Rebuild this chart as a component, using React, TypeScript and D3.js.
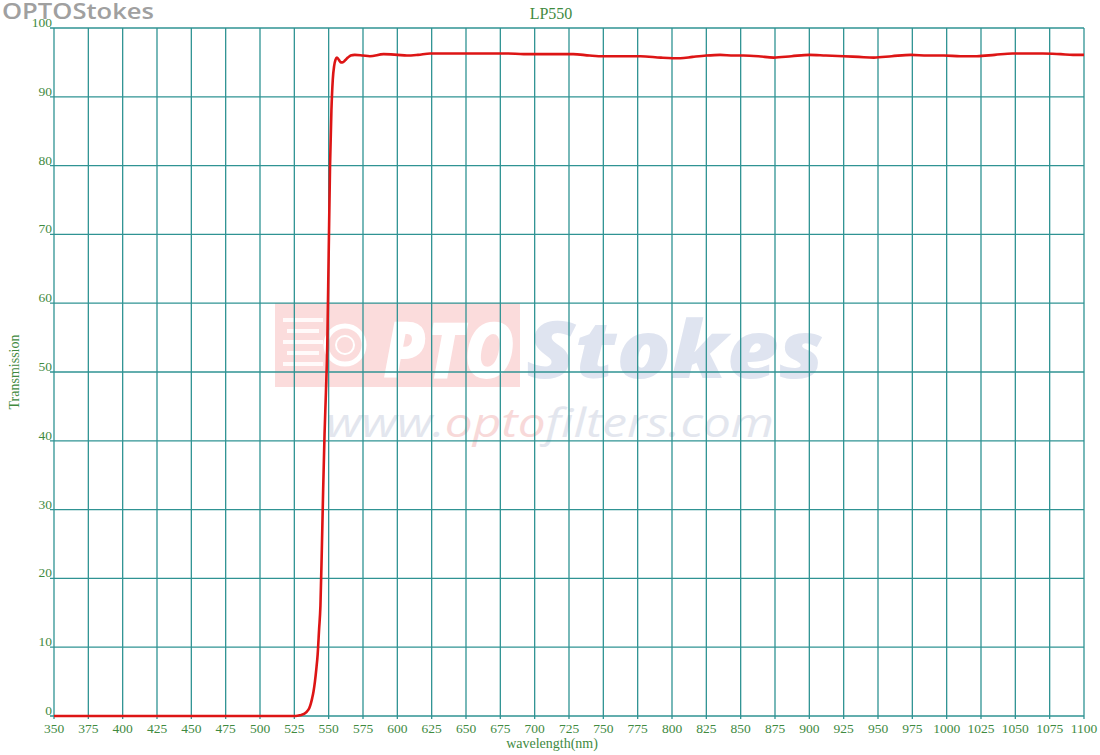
import React from "react";
import * as d3 from "d3";

// transmission curve (wavelength in nm, transmission in %)
const wavelengths = [
  350, 375, 400, 425, 450, 475, 500, 520, 526, 529, 532, 534, 536, 537, 538,
  539, 540, 541, 542, 543, 544, 545, 546, 547, 548, 549, 550, 551, 552, 553,
  554, 555, 556, 557, 558, 559, 560, 562, 564, 566, 569, 575, 580, 590, 600,
  607, 615, 624, 637, 650, 665, 680, 692, 704, 716, 728, 740, 750, 763, 777,
  792, 806, 815, 825, 835, 845, 852, 863, 874, 887, 900, 912, 925, 936, 947,
  960, 974, 986, 998, 1010, 1022, 1035, 1048, 1058, 1070, 1083, 1092, 1100,
];
const transmission = [
  0, 0, 0, 0, 0, 0, 0, 0, 0, 0.1, 0.3, 0.6, 1.2, 1.8, 2.6, 3.6, 5, 6.8, 9,
  12.5, 16, 24, 33, 41, 47, 54, 67, 80, 88, 92.5, 94.5, 95.4, 95.7, 95.5, 95.2,
  95.0, 95.0, 95.3, 95.7, 96.0, 96.1, 96.0, 95.9, 96.2, 96.1, 96.0, 96.1, 96.3,
  96.3, 96.3, 96.3, 96.3, 96.2, 96.2, 96.2, 96.2, 96.0, 95.9, 95.9, 95.9, 95.7,
  95.6, 95.8, 96.0, 96.1, 96.0, 96.0, 95.9, 95.7, 95.9, 96.1, 96.0, 95.9, 95.8,
  95.7, 95.9, 96.1, 96.0, 96.0, 95.9, 95.9, 96.1, 96.3, 96.3, 96.3, 96.2, 96.1,
  96.1,
];

const xTicks = d3.range(350, 1101, 25);
const yTicks = d3.range(0, 101, 10);

const title = "LP550";
const xTitle = "wavelength(nm)";
const yTitle = "Transmission";

const W = 1100;
const H = 755;
const margin = { top: 28, right: 16, bottom: 39, left: 54 };

const gridColor = "#2f9393";
const textColor = "#3f8a3f";
const lineColor = "#dd1515";
const serif = "'Liberation Serif', 'DejaVu Serif', serif";
const sans = "'Open Sans', 'DejaVu Sans', sans-serif";

export default function App() {
  const x = d3
    .scaleLinear()
    .domain([350, 1100])
    .range([margin.left, W - margin.right]);
  const y = d3
    .scaleLinear()
    .domain([0, 100])
    .range([H - margin.bottom, margin.top]);

  const points = wavelengths.map((w, i) => [w, transmission[i]] as [number, number]);
  const line = d3
    .line<[number, number]>()
    .x((d) => x(d[0]))
    .y((d) => y(d[1]))
    .curve(d3.curveMonotoneX);

  const x0 = x(350);
  const x1 = x(1100);
  const y0 = y(0);
  const y1 = y(100);

  return (
    <svg
      width={W}
      height={H}
      style={{ position: "absolute", left: 0, top: 0, background: "#fff" }}
    >
      {/* brand */}
      <text
        x={2}
        y={19}
        fontFamily={sans}
        fontWeight={600}
        fontSize={22}
        fill="#a0a0a0"
        textLength={152}
        lengthAdjust="spacingAndGlyphs"
      >
        OPTOStokes
      </text>

      {/* watermark */}
      <g>
        <rect x={275} y={303} width={245} height={84} fill="#fbdcdc" />
        {[0, 1, 2, 3, 4].map((i) => (
          <rect
            key={i}
            x={283 + (i % 2) * 4}
            y={318 + i * 11}
            width={40 - (i % 2) * 8}
            height={4}
            fill="#fff"
            opacity={0.85}
          />
        ))}
        <circle cx={345} cy={345} r={19} fill="none" stroke="#fff" strokeWidth={5} />
        <circle cx={345} cy={345} r={9} fill="none" stroke="#fff" strokeWidth={2} />
        <text
          x={383}
          y={378}
          fontFamily={sans}
          fontWeight={800}
          fontStyle="italic"
          fontSize={78}
          fill="#fff"
          textLength={132}
          lengthAdjust="spacingAndGlyphs"
        >
          PTO
        </text>
        <text
          x={526}
          y={378}
          fontFamily={sans}
          fontWeight={800}
          fontStyle="italic"
          fontSize={80}
          fill="#dfe4f0"
          textLength={298}
          lengthAdjust="spacingAndGlyphs"
        >
          Stokes
        </text>
        <text
          x={326}
          y={437}
          fontFamily={sans}
          fontStyle="italic"
          fontSize={40}
          fill="#e3e6ee"
          textLength={448}
          lengthAdjust="spacingAndGlyphs"
        >
          www.
          <tspan fill="#f8d9d9">opto</tspan>
          filters.com
        </text>
      </g>

      {/* grid */}
      <g stroke={gridColor} strokeWidth={1.3}>
        {xTicks.map((t) => (
          <line key={"gx" + t} x1={x(t)} x2={x(t)} y1={y1} y2={y0} />
        ))}
        {yTicks.map((t) => (
          <line key={"gy" + t} x1={x0 - 4} x2={x1} y1={y(t)} y2={y(t)} />
        ))}
        {xTicks.map((t) => (
          <line key={"tx" + t} x1={x(t)} x2={x(t)} y1={y0} y2={y0 + 3} />
        ))}
      </g>

      {/* curve */}
      <path
        d={line(points) ?? ""}
        fill="none"
        stroke={lineColor}
        strokeWidth={2.6}
        strokeLinejoin="round"
      />

      {/* tick labels */}
      <g fontFamily={serif} fontSize={13.5} fill={textColor}>
        {yTicks.map((t) => (
          <text key={"ly" + t} x={x0 - 2} y={y(t) - 1} textAnchor="end">
            {t}
          </text>
        ))}
        {xTicks.map((t) => (
          <text key={"lx" + t} x={x(t)} y={y0 + 17} textAnchor="middle">
            {t}
          </text>
        ))}
      </g>

      {/* titles */}
      <text
        x={551}
        y={19}
        textAnchor="middle"
        fontFamily={serif}
        fontSize={16}
        fill={textColor}
      >
        {title}
      </text>
      <text
        x={(x0 + x1) / 2 - 17}
        y={748}
        textAnchor="middle"
        fontFamily={serif}
        fontSize={14}
        fill={textColor}
      >
        {xTitle}
      </text>
      <text
        transform={`translate(19,${(y0 + y1) / 2}) rotate(-90)`}
        textAnchor="middle"
        fontFamily={serif}
        fontSize={14}
        fill={textColor}
      >
        {yTitle}
      </text>
    </svg>
  );
}
